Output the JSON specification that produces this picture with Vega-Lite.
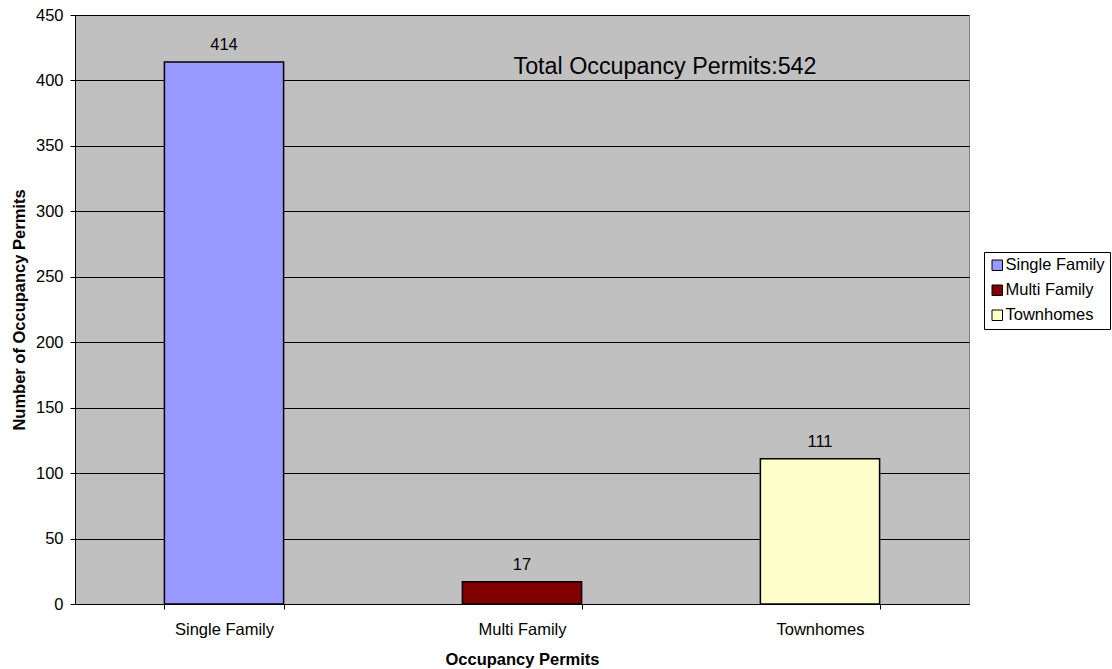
{
  "$schema": "https://vega.github.io/schema/vega-lite/v6.json",
  "width": 894,
  "height": 589,
  "autosize": "none",
  "padding": {"left": 75, "top": 15, "right": 143, "bottom": 65},
  "background": "white",
  "config": {
    "font": "Liberation Sans",
    "view": {"fill": "#C0C0C0", "stroke": "#808080", "strokeWidth": 1}
  },
  "layer": [
    {
      "data": {"values": [
        {"type": "Single Family", "count": 414},
        {"type": "Multi Family", "count": 17},
        {"type": "Townhomes", "count": 111}
      ]},
      "layer": [
        {
          "mark": {"type": "bar", "stroke": "black", "strokeWidth": 1.5},
          "encoding": {
            "x": {
              "field": "type", "type": "nominal", "sort": null,
              "scale": {"paddingInner": 0.6, "paddingOuter": 0.3},
              "axis": {
                "title": "Occupancy Permits", "labelAngle": 0, "labelFontSize": 16.5, "labelColor": "black",
                "labelPadding": 12, "tickBand": "extent", "tickColor": "black", "domainColor": "black",
                "tickSize": 5, "titleFontSize": 16.5, "titleFontWeight": "bold", "titleColor": "black", "titlePadding": 14
              }
            },
            "y": {
              "field": "count", "type": "quantitative",
              "scale": {"domain": [0, 450], "nice": false},
              "axis": {
                "title": "Number of Occupancy Permits", "values": [0, 50, 100, 150, 200, 250, 300, 350, 400, 450],
                "labelFontSize": 16.5, "labelColor": "black", "gridColor": "black", "gridOpacity": 1,
                "domainColor": "black", "tickColor": "black", "tickSize": 5, "labelPadding": 7,
                "titleFontSize": 16.5, "titleFontWeight": "bold", "titleColor": "black", "titlePadding": 8
              }
            },
            "color": {
              "field": "type", "type": "nominal", "sort": null,
              "scale": {"domain": ["Single Family", "Multi Family", "Townhomes"], "range": ["#9999FF", "#800000", "#FFFFCC"]},
              "legend": {
                "title": null, "orient": "none", "legendX": 909, "legendY": 237,
                "strokeColor": "black", "fillColor": "white", "padding": 5,
                "symbolType": "square", "symbolSize": 110, "symbolStrokeColor": "black", "symbolStrokeWidth": 1,
                "labelFontSize": 16.5, "labelColor": "black", "rowPadding": 8, "labelOffset": 0
              }
            }
          }
        },
        {
          "mark": {"type": "text", "dy": -17, "baseline": "middle", "fontSize": 16.5, "color": "black"},
          "encoding": {
            "x": {"field": "type", "type": "nominal", "sort": null},
            "y": {"field": "count", "type": "quantitative"},
            "text": {"field": "count", "type": "quantitative"}
          }
        }
      ]
    },
    {
      "data": {"values": [{"note": "Total Occupancy Permits:542"}]},
      "mark": {"type": "text", "align": "center", "baseline": "middle", "fontSize": 23.3, "color": "black", "dx": 143},
      "encoding": {
        "x": {"datum": "Multi Family", "type": "nominal"},
        "y": {"datum": 410.3, "type": "quantitative"},
        "text": {"field": "note", "type": "nominal"}
      }
    }
  ]
}
